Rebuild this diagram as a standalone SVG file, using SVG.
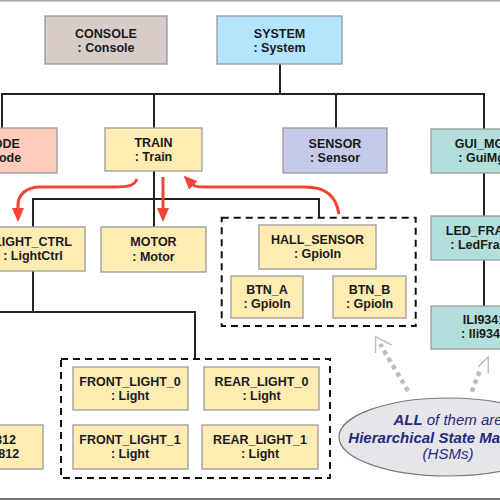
<svg xmlns="http://www.w3.org/2000/svg" width="500" height="500" viewBox="0 0 500 500">
<defs>
<style>
.box{stroke:#9a9a9a;stroke-width:1.3}
.y{fill:#ffecb3}
.t{font-family:"Liberation Sans",Arial,sans-serif;font-weight:bold;font-size:12.5px;fill:#1a1a1a;text-anchor:middle}
.c{fill:none;stroke:#222;stroke-width:2}
.d{fill:none;stroke:#111;stroke-width:2;stroke-dasharray:7,5}
.r{fill:none;stroke:#f44336;stroke-width:3}
.g{fill:none;stroke:#bdbdbd;stroke-width:4.5;stroke-dasharray:4.5,4}
.gh{fill:none;stroke:#bdbdbd;stroke-width:1.5}
.e{font-family:"Liberation Sans",Arial,sans-serif;font-style:italic;font-size:15px;fill:#1f2a80;text-anchor:middle}
</style>
<marker id="ra" viewBox="0 0 14 12" refX="2" refY="6" markerWidth="14" markerHeight="12" markerUnits="userSpaceOnUse" orient="auto">
<path d="M0,0 L14,6 L0,12 Z" fill="#f44336"/>
</marker>
</defs>
<rect width="500" height="500" fill="#fff"/>
<line x1="0" y1="0.75" x2="500" y2="0.75" stroke="#a0a0a0" stroke-width="1.5"/>
<line x1="0" y1="499" x2="500" y2="499" stroke="#777" stroke-width="2"/>

<g id="connectors">
<path class="c" d="M280,64 V94"/>
<path class="c" d="M2,128 V94 H484 V129"/>
<path class="c" d="M154,94 V128"/>
<path class="c" d="M336,94 V128"/>
<path class="c" d="M484,173 V216 M484,260 V306"/>
<path class="c" d="M154,171 V227"/>
<path class="c" d="M33,227 V199 H319 V217.7"/>
<path class="c" d="M33,271 V312 M-8,425 V312 H195 V359"/>
<path class="r" marker-end="url(#ra)" d="M137,179 C134,186 128,187 115,187 L40,187 C26,187 18,195 18,205 L18,210"/>
<path class="r" marker-end="url(#ra)" d="M163,177 V210"/>
<path class="r" marker-end="url(#ra)" d="M339,214 C336,196 326,187 305,187 L208,187 C199,187 195,187 192,184"/>
<path class="g" d="M408,391 L380,344"/>
<polyline class="gh" points="375.5,353 375.7,336.7 391.7,345"/>
<path class="g" d="M471.7,391.7 L481,368"/>
<polyline class="gh" points="478.3,366.7 488.3,356.7 488.3,373.3"/>
</g>

<rect class="d" x="221.7" y="217.7" width="194" height="108.3"/>
<rect class="d" x="61" y="359" width="269" height="119"/>

<g id="console"><rect class="box" x="45" y="16" width="122" height="48" fill="#d7ccc8"/>
<text class="t" x="106" y="38">CONSOLE</text><text class="t" x="106" y="52">: Console</text></g>
<g id="system"><rect class="box" x="217" y="16" width="125" height="48" fill="#b3e5fc"/>
<text class="t" x="279.5" y="38">SYSTEM</text><text class="t" x="279.5" y="52">: System</text></g>
<g id="mode"><rect class="box" x="-53" y="128" width="110" height="45" fill="#ffccbc"/>
<text class="t" x="1" y="148">MODE</text><text class="t" x="1" y="162">: Mode</text></g>
<g id="train"><rect class="box y" x="105" y="128" width="97" height="43"/>
<text class="t" x="153.5" y="147">TRAIN</text><text class="t" x="153.5" y="161">: Train</text></g>
<g id="sensor"><rect class="box" x="283" y="128" width="104" height="45" fill="#c5cae9"/>
<text class="t" x="335" y="148">SENSOR</text><text class="t" x="335" y="162">: Sensor</text></g>
<g id="gui_mgr"><rect class="box" x="431" y="129" width="106" height="44" fill="#b2dfdb"/>
<text class="t" x="484" y="148">GUI_MGR</text><text class="t" x="484" y="162">: GuiMgr</text></g>
<g id="light_ctrl"><rect class="box y" x="-19" y="227" width="104" height="44"/>
<text class="t" x="33" y="246">LIGHT_CTRL</text><text class="t" x="33" y="260">: LightCtrl</text></g>
<g id="motor"><rect class="box y" x="101" y="227" width="105" height="45"/>
<text class="t" x="153.5" y="246">MOTOR</text><text class="t" x="153.5" y="261">: Motor</text></g>
<g id="hall_sensor"><rect class="box y" x="259" y="225" width="117" height="44"/>
<text class="t" x="317.5" y="244">HALL_SENSOR</text><text class="t" x="317.5" y="258">: GpioIn</text></g>
<g id="btn_a"><rect class="box y" x="231" y="276" width="72" height="42"/>
<text class="t" x="267" y="294">BTN_A</text><text class="t" x="267" y="308">: GpioIn</text></g>
<g id="btn_b"><rect class="box y" x="333" y="276" width="73" height="42"/>
<text class="t" x="369.5" y="294">BTN_B</text><text class="t" x="369.5" y="308">: GpioIn</text></g>
<g id="led_frame"><rect class="box" x="431" y="216" width="106" height="44" fill="#b2dfdb"/>
<text class="t" x="484" y="235">LED_FRAME</text><text class="t" x="484" y="249">: LedFrame</text></g>
<g id="ili9341"><rect class="box" x="431" y="306" width="106" height="43" fill="#b2dfdb"/>
<text class="t" x="484" y="324">ILI9341</text><text class="t" x="484" y="338">: Ili9341</text></g>
<g id="ws2812"><rect class="box y" x="-59" y="425" width="102" height="44"/>
<text class="t" x="-8" y="444">WS2812</text><text class="t" x="-8" y="458">: Ws2812</text></g>
<g id="front_light_0"><rect class="box y" x="73" y="367" width="115" height="43"/>
<text class="t" x="130" y="386">FRONT_LIGHT_0</text><text class="t" x="130" y="400">: Light</text></g>
<g id="front_light_1"><rect class="box y" x="73" y="425" width="115" height="44"/>
<text class="t" x="130" y="444">FRONT_LIGHT_1</text><text class="t" x="130" y="458">: Light</text></g>
<g id="rear_light_0"><rect class="box y" x="204" y="367" width="115" height="43"/>
<text class="t" x="261.5" y="386">REAR_LIGHT_0</text><text class="t" x="261.5" y="400">: Light</text></g>
<g id="rear_light_1"><rect class="box y" x="202" y="425" width="116" height="44"/>
<text class="t" x="260" y="444">REAR_LIGHT_1</text><text class="t" x="260" y="458">: Light</text></g>

<g id="note"><ellipse cx="448" cy="437" rx="109" ry="39" fill="#e6e6ea" stroke="#7a7a7a" stroke-width="1.2"/>
<text class="e" x="448" y="425"><tspan font-weight="bold">ALL</tspan> of them are</text>
<text class="e" x="448" y="443" font-weight="bold">Hierarchical State Machines</text>
<text class="e" x="448" y="459">(HSMs)</text></g>
</svg>
